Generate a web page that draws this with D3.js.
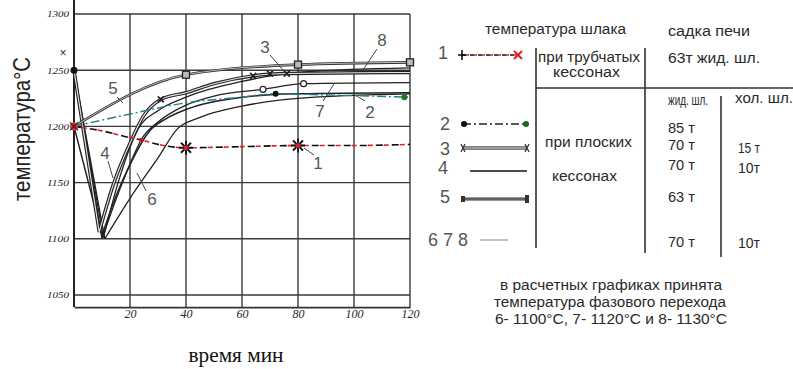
<!DOCTYPE html>
<html><head><meta charset="utf-8">
<script src="https://cdn.jsdelivr.net/npm/d3@7"></script>
<style>body{margin:0;background:#fff}svg{display:block}</style>
</head><body>
<svg id="c" width="793" height="369"></svg>
<script>
// ---------- data ----------
const xTicks = [20, 40, 60, 80, 100, 120];
const xTickLabels = ["20", "40", "60", "80", "100", "120"];
const yTicks = [1050, 1100, 1150, 1200, 1250, 1300];
const yTickLabels = ["1050", "1100", "1150", "1200", "1250", "1300"];

const s1 = [[0,1200],[10,1196],[20,1190],[24,1188],[30,1184],[40,1181],[60,1182],[80,1183],[100,1183],[120,1184]];
const s1Markers = [[40,1181],[80,1183]];
const s2 = [[0,1200],[20,1211],[40,1221],[60,1226],[72,1229],[90,1228],[120,1226]];
const s2Markers = [[72,1229],[118,1226]];
const s3 = [[0,1250],[9,1106],[14,1148],[20,1185],[25,1210],[31,1224],[40,1230],[50,1238],[64,1245],[76,1247],[120,1248]];
const s3Markers = [[31,1224],[64,1245],[70,1247],[76,1247]];
const s4 = [[0,1200],[10,1103],[15,1138],[20,1166],[27,1196],[33,1207],[40,1215],[60,1226],[80,1229],[120,1230]];
const s5 = [[0,1200],[40,1246],[80,1255],[120,1257]];
const s5Markers = [[40,1246],[80,1255],[120,1257]];
const s6 = [[0,1250],[11,1100],[20,1136],[30,1172],[37,1198],[45,1208],[60,1218],[80,1225],[120,1229]];
const s7 = [[0,1250],[10,1100],[17,1148],[25,1192],[30,1204],[40,1219],[50,1227],[67.5,1233],[82,1238],[120,1239]];
const s7Markers = [[67.5,1233],[82,1238]];
const s8 = [[0,1250],[10.5,1101],[16,1152],[23,1198],[30,1214],[40,1226],[60,1240],[80,1248],[120,1252]];

// ---------- setup ----------
const svg = d3.select("#c");
const x = d3.scaleLinear().domain([0, 120]).range([74, 410]);
const y = d3.scaleLinear().domain([1050, 1300]).range([295, 14]);
const yBottom = y(1039.3);
const ink = "#222";

// grid
const grid = svg.append("g").attr("stroke", "#3a3a3a").attr("stroke-width", 1.4);
yTicks.forEach(t => grid.append("line").attr("x1", x(0)).attr("x2", x(120)).attr("y1", y(t)).attr("y2", y(t)));
xTicks.forEach(t => grid.append("line").attr("x1", x(t)).attr("x2", x(t)).attr("y1", y(1300)).attr("y2", yBottom));

// axes
const xAxis = svg.append("g").attr("transform", `translate(0,${yBottom})`)
  .call(d3.axisBottom(x).tickValues(xTicks).tickFormat((d,i)=>xTickLabels[i]).tickSize(0).tickPadding(2));
xAxis.select(".domain").attr("stroke", "#333").attr("stroke-width", 1.8);
xAxis.selectAll("text").attr("font-family", "Liberation Serif").attr("font-style", "italic")
  .attr("font-size", 12).attr("fill", "#222");

const yAxis = svg.append("g").attr("transform", `translate(${x(0)},0)`)
  .call(d3.axisLeft(y).tickValues(yTicks).tickFormat((d,i)=>yTickLabels[i]).tickSize(0).tickPadding(5));
yAxis.select(".domain").remove();
yAxis.selectAll("text").attr("font-family", "Liberation Serif").attr("font-style", "italic")
  .attr("font-size", 9).attr("fill", "#222").attr("textLength", 22).attr("lengthAdjust", "spacingAndGlyphs");
svg.append("line").attr("x1", x(0)).attr("x2", x(0)).attr("y1", 0).attr("y2", yBottom)
  .attr("stroke", "#222").attr("stroke-width", 2);

// ---------- series ----------
const line = d3.line().x(d => x(d[0])).y(d => y(d[1]));
function vPath(data) {
  const mi = d3.minIndex(data, d => d[1]);
  const a = line.curve(d3.curveLinear)(data.slice(0, mi + 1));
  const b = line.curve(d3.curveMonotoneX)(data.slice(mi));
  return a + b;
}
const g = svg.append("g").attr("fill", "none");

[s6, s7, s8].forEach(s => g.append("path").attr("d", vPath(s)).attr("stroke", ink).attr("stroke-width", 1.3));
g.append("path").attr("d", vPath(s4)).attr("stroke", ink).attr("stroke-width", 1.5);

// 3: double line
g.append("path").attr("d", vPath(s3)).attr("stroke", ink).attr("stroke-width", 3.4);
g.append("path").attr("d", vPath(s3)).attr("stroke", "#e8e8e8").attr("stroke-width", 1.1);
s3Markers.forEach(m => {
  const px = x(m[0]), py = y(m[1]);
  g.append("path").attr("d", `M${px-3},${py-3}L${px+3},${py+3}M${px-3},${py+3}L${px+3},${py-3}`)
    .attr("stroke", ink).attr("stroke-width", 1.6);
});

// 5: double line with squares
const d5 = line.curve(d3.curveMonotoneX)(s5);
g.append("path").attr("d", d5).attr("stroke", "#333").attr("stroke-width", 2.6);
g.append("path").attr("d", d5).attr("stroke", "#ddd").attr("stroke-width", 0.8);
s5Markers.forEach(m => g.append("rect").attr("x", x(m[0]) - 3.5).attr("y", y(m[1]) - 3.5)
  .attr("width", 7).attr("height", 7).attr("fill", "#bbb").attr("stroke", "#222").attr("stroke-width", 1.3));

// 2: teal dash-dot
const d2 = line.curve(d3.curveMonotoneX)(s2);
g.append("path").attr("d", d2).attr("stroke", "#1f7f86").attr("stroke-width", 1.4)
  .attr("stroke-dasharray", "9,3,2,3");
s2Markers.forEach((m, i) => g.append("circle").attr("cx", x(m[0])).attr("cy", y(m[1])).attr("r", 3)
  .attr("fill", i ? "#1a7a1a" : "#111"));

// 7 markers: open circles
s7Markers.forEach(m => g.append("circle").attr("cx", x(m[0])).attr("cy", y(m[1])).attr("r", 3)
  .attr("fill", "#fff").attr("stroke", ink).attr("stroke-width", 1.2));

// 1: dashed black/red
const d1 = line.curve(d3.curveMonotoneX)(s1);
g.append("path").attr("d", d1).attr("stroke", "#111").attr("stroke-width", 1.6).attr("stroke-dasharray", "7,9");
g.append("path").attr("d", d1).attr("stroke", "#e02020").attr("stroke-width", 1.6)
  .attr("stroke-dasharray", "5,11").attr("stroke-dashoffset", -8);
s1Markers.forEach(m => {
  const px = x(m[0]), py = y(m[1]);
  g.append("path").attr("d", `M${px-7},${py}L${px+7},${py}M${px},${py-7}L${px},${py+7}M${px-5},${py-5}L${px+5},${py+5}M${px-5},${py+5}L${px+5},${py-5}`)
    .attr("stroke", "#111").attr("stroke-width", 1.8);
  g.append("circle").attr("cx", px).attr("cy", py).attr("r", 2.5).attr("fill", "#e02020");
});
g.append("circle").attr("cx", x(24)).attr("cy", y(1188)).attr("r", 2.2).attr("fill", "#d01818");

// start points
svg.append("circle").attr("cx", x(0)).attr("cy", y(1250)).attr("r", 3.5).attr("fill", "#111");
svg.append("circle").attr("cx", x(0)).attr("cy", y(1200)).attr("r", 4).attr("fill", "#e03030");
svg.append("path").attr("d", `M${x(0)-4},${y(1200)-4}L${x(0)+4},${y(1200)+4}M${x(0)-4},${y(1200)+4}L${x(0)+4},${y(1200)-4}`)
  .attr("stroke", "#222").attr("stroke-width", 1.2);
svg.append("text").attr("x", 63).attr("y", 57).attr("text-anchor", "middle").attr("font-family", "Liberation Sans")
  .attr("font-size", 12).attr("fill", "#333").text("×");

// ---------- labels inside plot ----------
const plotLabels = [
  ["3", 265, 47, [[270,55],[283,70]]],
  ["8", 382, 40, [[377,49],[363,70]]],
  ["5", 113, 88, [[117,97],[123,103]]],
  ["7", 320, 111, [[323,101],[334,84]]],
  ["2", 370, 112, [[365,101],[357,96]]],
  ["1", 318, 163, [[314,155],[304,148]]],
  ["4", 105, 153, [[108,161],[113,178]]],
  ["6", 152, 199, [[146,191],[137,173]]]
];
plotLabels.forEach(([t, lx, ly, ld]) => {
  svg.append("text").attr("x", lx).attr("y", ly).attr("dy", "0.35em").attr("text-anchor", "middle")
    .attr("font-family", "Liberation Sans").attr("font-size", 17).attr("fill", "#555").text(t);
  svg.append("path").attr("d", d3.line()(ld)).attr("stroke", "#444").attr("stroke-width", 1).attr("fill", "none");
});

// axis titles
svg.append("text").attr("transform", "translate(30,129) rotate(-90)").attr("text-anchor", "middle")
  .attr("font-family", "Liberation Sans").attr("font-size", 24).attr("fill", "#222")
  .attr("textLength", 144).attr("lengthAdjust", "spacingAndGlyphs").text("температура°С");
svg.append("text").attr("x", 236).attr("y", 355).attr("dy", "0.35em").attr("text-anchor", "middle")
  .attr("font-family", "Liberation Serif").attr("font-size", 20).attr("fill", "#111")
  .attr("textLength", 95).attr("lengthAdjust", "spacingAndGlyphs").text("время мин");

// ---------- legend / table ----------
const lg = svg.append("g");
const legendNums = [["1",443,53],["2",445,124],["3",445,149],["4",443,168],["5",445,197],["6 7 8",448,240]];
legendNums.forEach(([t,lx,ly]) => lg.append("text").attr("x", lx).attr("y", ly).attr("dy", "0.35em")
  .attr("text-anchor", "middle").attr("font-family", "Liberation Sans").attr("font-size", 18).attr("fill", "#555").text(t));

// legend line samples
lg.append("line").attr("x1",462).attr("x2",518).attr("y1",55).attr("y2",55).attr("stroke","#111").attr("stroke-width",1.5).attr("stroke-dasharray","4,4");
lg.append("line").attr("x1",466).attr("x2",518).attr("y1",55).attr("y2",55).attr("stroke","#e02020").attr("stroke-width",1.5).attr("stroke-dasharray","3,5");
lg.append("path").attr("d","M462,50L462,60M458,55L466,55").attr("stroke","#111").attr("stroke-width",1.6);
lg.append("path").attr("d","M514,51L522,59M514,59L522,51").attr("stroke","#e02020").attr("stroke-width",2);
lg.append("line").attr("x1",463).attr("x2",527).attr("y1",124).attr("y2",124).attr("stroke","#222").attr("stroke-width",1.4).attr("stroke-dasharray","8,3,2,3");
lg.append("circle").attr("cx",464).attr("cy",124).attr("r",3).attr("fill","#111");
lg.append("circle").attr("cx",526).attr("cy",124).attr("r",3).attr("fill","#1a6a1a");
lg.append("line").attr("x1",463).attr("x2",527).attr("y1",148).attr("y2",148).attr("stroke","#555").attr("stroke-width",3.4);
lg.append("line").attr("x1",463).attr("x2",527).attr("y1",148).attr("y2",148).attr("stroke","#ddd").attr("stroke-width",1);
lg.append("path").attr("d","M461,144L465,152M465,144L461,152M525,144L529,152M529,144L525,152").attr("stroke","#333").attr("stroke-width",1.3);
lg.append("line").attr("x1",470).attr("x2",527).attr("y1",171).attr("y2",171).attr("stroke","#111").attr("stroke-width",1.4);
lg.append("line").attr("x1",463).attr("x2",527).attr("y1",199).attr("y2",199).attr("stroke","#333").attr("stroke-width",2.8);
lg.append("line").attr("x1",463).attr("x2",527).attr("y1",199).attr("y2",199).attr("stroke","#aaa").attr("stroke-width",0.8);
lg.append("rect").attr("x",461).attr("y",196).attr("width",4).attr("height",6).attr("fill","#333");
lg.append("rect").attr("x",525).attr("y",195).attr("width",4).attr("height",8).attr("fill","#333");
lg.append("line").attr("x1",480).attr("x2",508).attr("y1",240).attr("y2",240).attr("stroke","#999").attr("stroke-width",1.2);

// table rules
const rules = [[536,48,536,248],[645,48,645,253],[721,96,721,257],[536,88,793,88]];
rules.forEach(r => lg.append("line").attr("x1",r[0]).attr("y1",r[1]).attr("x2",r[2]).attr("y2",r[3])
  .attr("stroke","#333").attr("stroke-width",1.6));

// table texts: [text, x-start, y-center, width]
const tableTexts = [
  ["температура шлака", 485, 29, 141],
  ["садка печи", 668, 31, 82],
  ["при трубчатых", 538, 57, 102],
  ["кессонах", 553, 72, 67],
  ["63т жид. шл.", 668, 58, 92],
  ["жид. шл.", 668, 100, 40],
  ["хол. шл.", 735, 98, 58],
  ["85 т", 668, 128, 27],
  ["при плоских", 545, 142, 87],
  ["70 т", 668, 145, 27],
  ["15 т", 738, 148, 22],
  ["70 т", 668, 165, 27],
  ["10т", 738, 168, 22],
  ["кессонах", 552, 176, 65],
  ["63 т", 668, 197, 27],
  ["70 т", 668, 242, 27],
  ["10т", 738, 243, 22]
];
tableTexts.forEach(([t,tx,ty,w]) => lg.append("text").attr("x", tx).attr("y", ty).attr("dy", "0.35em")
  .attr("font-family", "Liberation Sans").attr("font-size", 14).attr("fill", "#2a2a2a")
  .attr("textLength", w).attr("lengthAdjust", "spacingAndGlyphs").text(t));

const noteLines = [
  ["в расчетных  графиках принята", 611, 285, 222],
  ["температура фазового перехода", 610, 302, 232],
  ["6- 1100°С, 7- 1120°С и 8- 1130°С", 611, 319, 232]
];
noteLines.forEach(([t,tx,ty,w]) => lg.append("text").attr("x", tx).attr("y", ty).attr("dy", "0.35em")
  .attr("text-anchor", "middle").attr("font-family", "Liberation Sans").attr("font-size", 14).attr("fill", "#2a2a2a")
  .attr("textLength", w).attr("lengthAdjust", "spacingAndGlyphs").text(t));
</script>
</body></html>
